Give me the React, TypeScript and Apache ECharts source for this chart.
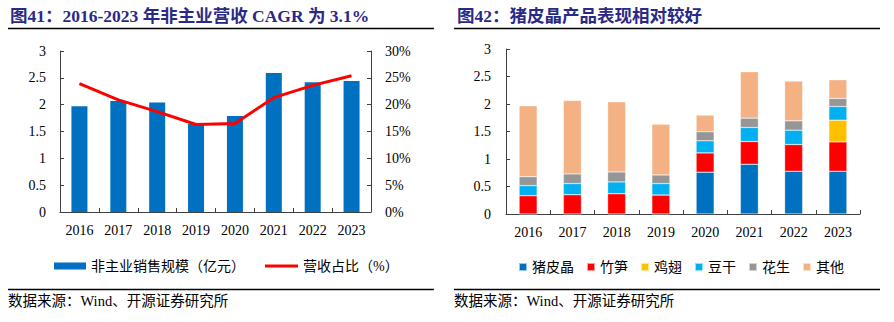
import React, { useEffect, useRef } from "react";
import * as echarts from "echarts";

const years = ["2016", "2017", "2018", "2019", "2020", "2021", "2022", "2023"];
// left chart
const salesScale = [1.97, 2.07, 2.04, 1.64, 1.79, 2.59, 2.42, 2.44];
const revenueShare = [23.9, 20.9, 18.7, 16.3, 16.5, 21.3, 23.6, 25.4];
// right chart (stacked)
const pigSkin = [0, 0, 0, 0, 0.76, 0.905, 0.777, 0.777];
const bamboo = [0.334, 0.352, 0.37, 0.346, 0.352, 0.413, 0.486, 0.534];
const chickenWing = [0, 0, 0, 0, 0, 0, 0, 0.395];
const driedTofu = [0.182, 0.201, 0.213, 0.207, 0.219, 0.255, 0.261, 0.249];
const peanut = [0.164, 0.176, 0.182, 0.157, 0.164, 0.17, 0.17, 0.146];
const others = [1.287, 1.335, 1.275, 0.923, 0.303, 0.844, 0.723, 0.34];

const leftTitle = "图41：2016-2023 年非主业营收 CAGR 为 3.1%";
const rightTitle = "图42：猪皮晶产品表现相对较好";
const sourceText = "数据来源：Wind、开源证券研究所";

const FONT = '"Liberation Serif", "Times New Roman", "Noto Sans CJK SC", serif';
const AXIS_COLOR = "#404040";

export default function App() {
  const ref = useRef<HTMLDivElement>(null);
  useEffect(() => {
    if (!ref.current) return;
    const chart = echarts.init(ref.current, undefined, { renderer: "svg" });
    const axisLabel = { color: "#000", fontSize: 14, fontFamily: FONT };
    const axisLine = { show: true, lineStyle: { color: AXIS_COLOR, width: 1 } };
    const axisTick = { show: true, inside: true, length: 4, lineStyle: { color: AXIS_COLOR } };
    const stackSeries = (name: string, data: number[], color: string) => ({
      name,
      type: "bar",
      stack: "total",
      xAxisIndex: 1,
      yAxisIndex: 2,
      barWidth: 18,
      data,
      itemStyle: { color, borderColor: "rgba(255,255,255,0.6)", borderWidth: 0.5 },
    });
    chart.setOption({
      animation: false,
      textStyle: { fontFamily: FONT },
      grid: [
        { left: 60, top: 51, width: 311, height: 161 },
        { left: 506, top: 49, width: 354, height: 165 },
      ],
      xAxis: [
        {
          type: "category",
          gridIndex: 0,
          data: years,
          axisLine,
          axisTick,
          axisLabel: { ...axisLabel, margin: 11 },
        },
        {
          type: "category",
          gridIndex: 1,
          data: years,
          axisLine,
          axisTick,
          axisLabel: { ...axisLabel, margin: 11 },
        },
      ],
      yAxis: [
        {
          type: "value",
          gridIndex: 0,
          min: 0,
          max: 3,
          interval: 0.5,
          axisLine,
          axisTick,
          splitLine: { show: false },
          axisLabel: { ...axisLabel, margin: 14 },
        },
        {
          type: "value",
          gridIndex: 0,
          position: "right",
          min: 0,
          max: 30,
          interval: 5,
          axisLine,
          axisTick,
          splitLine: { show: false },
          axisLabel: { ...axisLabel, margin: 14, formatter: "{value}%" },
        },
        {
          type: "value",
          gridIndex: 1,
          min: 0,
          max: 3,
          interval: 0.5,
          axisLine,
          axisTick,
          splitLine: { show: false },
          axisLabel: { ...axisLabel, margin: 15 },
        },
      ],
      legend: [
        {
          data: ["非主业销售规模（亿元）"],
          left: 49,
          top: 254,
          icon: "rect",
          itemWidth: 32,
          itemHeight: 7,
          itemGap: 0,
          textStyle: { fontSize: 14, color: "#000", fontFamily: FONT },
        },
        {
          data: ["营收占比（%）"],
          left: 260,
          top: 254,
          icon: "rect",
          itemWidth: 33,
          itemHeight: 3,
          textStyle: { fontSize: 14, color: "#000", fontFamily: FONT },
        },
        {
          data: ["猪皮晶", "竹笋", "鸡翅", "豆干", "花生", "其他"],
          left: 513,
          top: 255,
          icon: "rect",
          itemWidth: 8,
          itemHeight: 8,
          itemGap: 12,
          textStyle: { fontSize: 14, color: "#000", fontFamily: FONT },
        },
      ],
      series: [
        {
          name: "非主业销售规模（亿元）",
          type: "bar",
          xAxisIndex: 0,
          yAxisIndex: 0,
          barWidth: 16,
          data: salesScale,
          itemStyle: { color: "#0070C0" },
        },
        {
          name: "营收占比（%）",
          type: "line",
          xAxisIndex: 0,
          yAxisIndex: 1,
          data: revenueShare,
          showSymbol: false,
          symbol: "none",
          lineStyle: { color: "#FF0000", width: 3 },
          itemStyle: { color: "#FF0000" },
        },
        stackSeries("猪皮晶", pigSkin, "#0070C0"),
        stackSeries("竹笋", bamboo, "#FF0000"),
        stackSeries("鸡翅", chickenWing, "#FFC000"),
        stackSeries("豆干", driedTofu, "#00B0F0"),
        stackSeries("花生", peanut, "#969696"),
        stackSeries("其他", others, "#F4B183"),
      ],
      graphic: [
        {
          type: "text",
          left: 10,
          top: 7,
          style: {
            text: leftTitle,
            fontSize: 17.5,
            fontWeight: "bold",
            fontFamily: FONT,
            fill: "#2A2A86",
          },
        },
        {
          type: "text",
          left: 457,
          top: 7,
          style: {
            text: rightTitle,
            fontSize: 17.5,
            fontWeight: "bold",
            fontFamily: FONT,
            fill: "#2A2A86",
          },
        },
        { type: "line", shape: { x1: 8, y1: 28.5, x2: 434, y2: 28.5 }, style: { stroke: "#000", lineWidth: 1.5 } },
        { type: "line", shape: { x1: 454, y1: 28.5, x2: 880, y2: 28.5 }, style: { stroke: "#000", lineWidth: 1.5 } },
        { type: "line", shape: { x1: 8, y1: 289.5, x2: 434, y2: 289.5 }, style: { stroke: "#000", lineWidth: 1.5 } },
        { type: "line", shape: { x1: 454, y1: 289.5, x2: 880, y2: 289.5 }, style: { stroke: "#000", lineWidth: 1.5 } },
        {
          type: "text",
          left: 8,
          top: 294,
          style: { text: sourceText, fontSize: 14.5, fontFamily: FONT, fill: "#000" },
        },
        {
          type: "text",
          left: 454,
          top: 294,
          style: { text: sourceText, fontSize: 14.5, fontFamily: FONT, fill: "#000" },
        },
      ],
    });
    return () => chart.dispose();
  }, []);
  return (
    <div
      ref={ref}
      style={{ position: "fixed", left: 0, top: 0, width: 894, height: 322, background: "#fff" }}
    />
  );
}
